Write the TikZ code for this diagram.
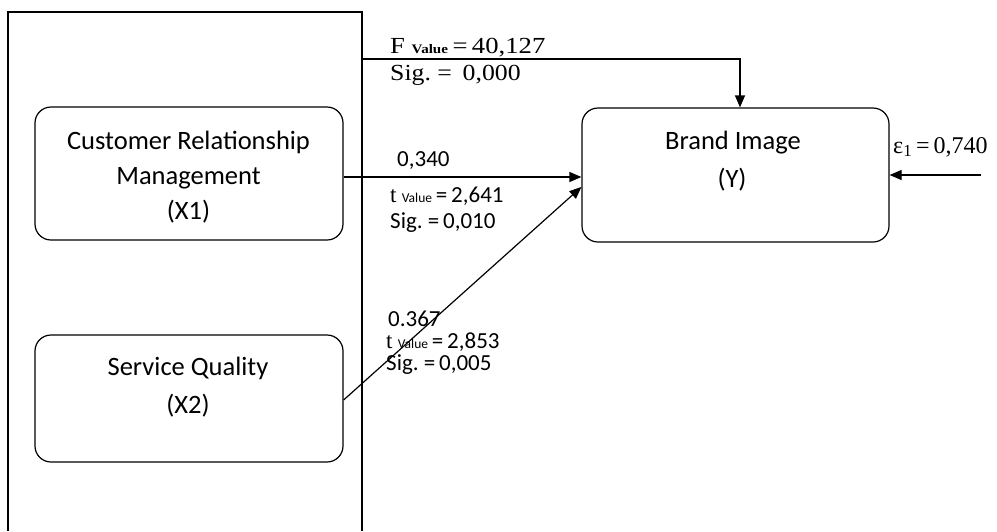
\documentclass[tikz,border=0pt]{standalone}
\usepackage{fontspec}
\setmainfont{Carlito}
\newfontfamily\tnr{Liberation Serif}
\usetikzlibrary{arrows.meta,calc}
\begin{document}
\begin{tikzpicture}[x=1pt,y=-1pt,
  box/.style={draw,line width=1.2pt,rounded corners=16pt,inner sep=0pt},
  arr/.style={line width=1.2pt,-{Triangle[length=12pt,width=10pt]}},
  ln/.style={line width=1.2pt},
  btxt/.style={font=\fontsize{26.5}{30}\selectfont,anchor=center,inner sep=0pt},
  lab/.style={font=\fontsize{23}{26}\selectfont,anchor=base west,inner sep=0pt},
  slab/.style={font=\tnr\fontsize{23}{26}\selectfont,anchor=base west,inner sep=0pt}]
\useasboundingbox (0,0) rectangle (997,531);
% outer frame
\draw[ln] (8,531) -- (8,12) -- (362,12) -- (362,531);
% boxes
\node[box,minimum width=308pt,minimum height=133pt] (X1) at (189,173.5) {};
\node[box,minimum width=308pt,minimum height=127pt] (X2) at (189,398.5) {};
\node[box,minimum width=307pt,minimum height=134pt] (Y) at (735.5,175) {};
% box texts
\node[btxt] (x1a) at (188.5,142) {Customer Relationship};
\node[btxt] (x1b) at (188.5,178) {Management};
\node[btxt] (x1c) at (188.5,212) {(X1)};
\node[btxt] (x2a) at (188,368) {Service Quality};
\node[btxt] (x2b) at (188,406) {(X2)};
\node[btxt] (ya) at (733,143) {Brand Image};
\node[btxt] (yb) at (732,180) {(Y)};
% connectors
\coordinate (fstart) at (362,59);
\coordinate (fcorner) at (740,59);
\draw[arr] (fstart) -| (fcorner |- Y.north);
\draw[arr] ([yshift=-3.5pt]X1.east) -- ([yshift=-3.5pt]X1.east -| Y.west);
\draw[arr] ([yshift=-1.5pt]X2.east) -- ([yshift=-12pt]Y.west);
\coordinate (estart) at (981,175);
\draw[arr] (estart) -- (Y.east);
% labels
\node[slab,xscale=1.16,transform shape] (f1) at (390,53) {F\ {\fontsize{13}{14}\selectfont\tnr\bfseries Value}\,=\,40,127};
\node[slab,xscale=1.12,transform shape] (f2) at (390,80) {Sig.\ =\ \,0,000};
\node[lab] (a1) at (397,166) {0,340};
\node[lab] (a2) at (390,202) {{\tnr t}\ {\fontsize{13.5}{14}\selectfont Value}\,=\,2,641};
\node[lab] (a3) at (390,228) {Sig.\ =\,0,010};
\node[lab] (b1) at (388,326) {0.367};
\node[lab] (b2) at (386,348) {{\tnr t}\ {\fontsize{13.5}{14}\selectfont Value}\,=\,2,853};
\node[lab] (b3) at (386,370) {Sig.\ =\,0,005};
\node[slab,font=\tnr\fontsize{24}{26}\selectfont] (e1) at (893,153) {ε\textsubscript{1}\,=\,0,740};
\end{tikzpicture}
\end{document}
